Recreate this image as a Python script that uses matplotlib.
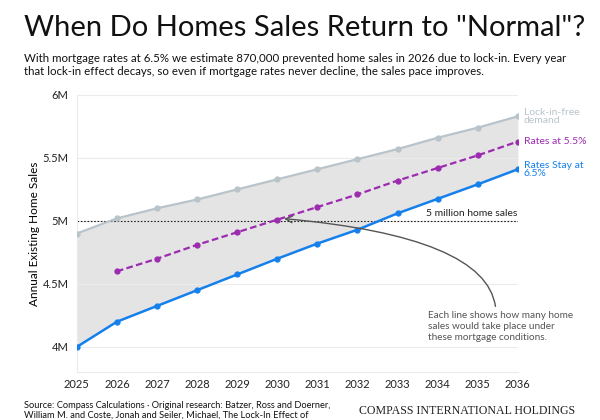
import matplotlib as mpl
mpl.use('Agg')
import matplotlib.pyplot as plt
from matplotlib.ticker import FuncFormatter

plt.rcParams['font.family'] = ['Lato', 'DejaVu Sans']

years = [2025, 2026, 2027, 2028, 2029, 2030, 2031, 2032, 2033, 2034, 2035, 2036]
lock_free = [4.90, 5.02, 5.10, 5.17, 5.25, 5.33, 5.41, 5.49, 5.57, 5.66, 5.74, 5.83]
rates_55_years = years[1:]
rates_55 = [4.60, 4.70, 4.81, 4.91, 5.01, 5.11, 5.21, 5.32, 5.42, 5.52, 5.63]
rates_65 = [4.00, 4.20, 4.325, 4.45, 4.575, 4.70, 4.82, 4.93, 5.06, 5.175, 5.29, 5.41]
yticks = [4.0, 4.5, 5.0, 5.5, 6.0]

GRAY = '#b9c3ca'
PURPLE = '#9c2bb0'
BLUE = '#1580ec'

fig = plt.figure(figsize=(6, 4.2), dpi=100)
ax = fig.add_axes([0.128, 0.114, 0.735, 0.66])

ax.fill_between(years, rates_65, lock_free, color='#e4e4e4', lw=0, zorder=1)
ax.plot(years, lock_free, color=GRAY, lw=1.6, marker='o', ms=3.5, zorder=3)
ax.plot(rates_55_years, rates_55, color=PURPLE, lw=1.6, ls='--', dashes=(3, 1.5),
        marker='o', ms=3.5, zorder=3)
ax.plot(years, rates_65, color=BLUE, lw=1.8, marker='o', ms=3.5, zorder=3)

ax.axhline(5.0, color='#222222', lw=0.8, ls=(0, (1.5, 1.5)), zorder=2)
ax.text(2036, 5.02, '5 million home sales', ha='right', va='bottom', fontsize=7.5,
        color='#222222')

ax.set_xlim(2025, 2036)
ax.set_ylim(3.8, 6.0)
ax.set_xticks(years)
ax.set_yticks(yticks)
ax.yaxis.set_major_formatter(FuncFormatter(lambda v, p: ('%g' % v) + 'M'))
ax.grid(axis='y', color='#ebebeb', lw=0.8, zorder=0)
ax.tick_params(axis='both', length=0, labelsize=8, colors='#222222', pad=6)
ax.tick_params(axis='x', pad=5)
for s in ['top', 'right']:
  ax.spines[s].set_visible(False)
ax.spines['left'].set_color('#ebebeb')
ax.spines['bottom'].set_color('#ebebeb')
ax.set_ylabel('Annual Existing Home Sales', fontsize=8.5, labelpad=2)

# series labels at right end
ax.text(2036.15, lock_free[-1], 'Lock-in-free\ndemand', color=GRAY, fontsize=7.5,
        va='center', ha='left', linespacing=0.9, clip_on=False)
ax.text(2036.15, rates_55[-1], 'Rates at 5.5%', color=PURPLE, fontsize=7.5,
        va='center', ha='left', clip_on=False)
ax.text(2036.15, rates_65[-1], 'Rates Stay at\n6.5%', color=BLUE, fontsize=7.5,
        va='center', ha='left', linespacing=0.9, clip_on=False)

ax.text(2033.75, 4.16, 'Each line shows how many home\nsales would take place under\nthese mortgage conditions.',
        fontsize=7.2, color='#555555', va='center', ha='left', linespacing=1.3)
ax.annotate('', xy=(2030.1, 5.02), xytext=(2035.45, 4.30), zorder=5,
            arrowprops=dict(arrowstyle='->', color='#555555', lw=1.0, mutation_scale=12,
                            connectionstyle='angle3,angleA=95,angleB=-5'))

fig.text(0.04, 0.965, 'When Do Homes Sales Return to "Normal"?', fontsize=21,
         va='top', ha='left', color='#111111')
fig.text(0.04, 0.875, 'With mortgage rates at 6.5% we estimate 870,000 prevented home sales in 2026 due to lock-in. Every year\n'
         'that lock-in effect decays, so even if mortgage rates never decline, the sales pace improves.',
         fontsize=8.3, va='top', ha='left', color='#111111', linespacing=1.3)
fig.text(0.04, 0.006, 'Source: Compass Calculations \u00b7 Original research: Batzer, Ross and Doerner,\n'
         'William M. and Coste, Jonah and Seiler, Michael, The Lock-In Effect of',
         fontsize=6.7, va='baseline', ha='left', color='#111111', linespacing=1.0)
fig.text(0.958, 0.006, 'COMPASS INTERNATIONAL HOLDINGS',
         fontsize=8.6, family=['Liberation Serif', 'DejaVu Serif'], va='bottom', ha='right',
         color='#222222')

fig.savefig('out.png', dpi=100)
